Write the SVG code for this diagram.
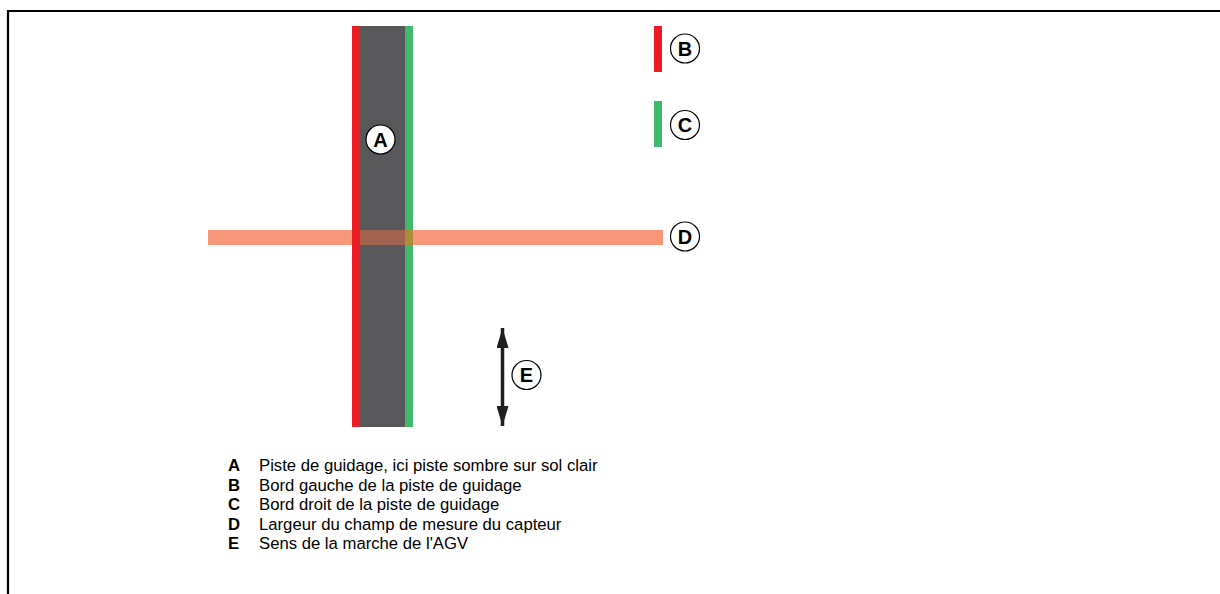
<svg xmlns="http://www.w3.org/2000/svg" width="1220" height="594" viewBox="0 0 1220 594">
  <style>
    .frame { stroke: #000; stroke-width: 2.2; fill: none; }
    .tag circle { fill: #fff; stroke: #000; stroke-width: 1.2; }
    .tag text { font-family: "Liberation Sans", Arial, sans-serif; font-weight: bold; font-size: 20px; text-anchor: middle; fill: #000; }
    .key { font-family: "Liberation Sans", Arial, sans-serif; font-size: 16.7px; fill: #000; }
    .key .k { font-weight: bold; }
  </style>
  <defs>
    <marker id="head" viewBox="0 0 20 12" refX="20" refY="6" markerWidth="20" markerHeight="12" markerUnits="userSpaceOnUse" orient="auto-start-reverse">
      <path d="M0,0 L20,6 L0,12 Z" fill="#231f20"/>
    </marker>
  </defs>

  <rect width="1220" height="594" fill="#fff"/>
  <path class="frame" d="M8,594 V11 H1220"/>

  <!-- guide track with its two edges -->
  <g id="track">
    <rect x="360" y="26" width="45" height="401" fill="#58585a"/>
    <rect x="352" y="26" width="8" height="401" fill="#ed1c24"/>
    <rect x="405" y="26" width="8" height="401" fill="#40b96a"/>
  </g>

  <!-- sensor measuring field -->
  <g id="field">
    <rect x="208" y="230" width="144" height="15" fill="#f7977a"/>
    <rect x="360" y="230" width="45" height="15" fill="#a1634f"/>
    <rect x="405" y="230" width="8" height="15" fill="#b08a3c"/>
    <rect x="413" y="230" width="250" height="15" fill="#f7977a"/>
  </g>

  <!-- edge colour samples -->
  <g id="edge-left">
    <rect x="654" y="26" width="8" height="46" fill="#ed1c24"/>
  </g>
  <g id="edge-right">
    <rect x="654" y="101" width="8" height="46" fill="#40b96a"/>
  </g>

  <!-- direction of travel -->
  <g id="connectors">
    <line x1="502.5" y1="328" x2="502.5" y2="426" stroke="#231f20" stroke-width="3.5" marker-start="url(#head)" marker-end="url(#head)"/>
  </g>

  <g id="tag-a" class="tag">
    <circle cx="380.5" cy="139.5" r="14.5"/>
    <text x="380.5" y="146.5">A</text>
  </g>
  <g id="tag-b" class="tag">
    <circle cx="685" cy="48.5" r="14.5"/>
    <text x="685" y="55.5">B</text>
  </g>
  <g id="tag-c" class="tag">
    <circle cx="685" cy="125" r="14.5"/>
    <text x="685" y="132">C</text>
  </g>
  <g id="tag-d" class="tag">
    <circle cx="685" cy="236.5" r="14.5"/>
    <text x="685" y="243.5">D</text>
  </g>
  <g id="tag-e" class="tag">
    <circle cx="526.5" cy="375" r="14.5"/>
    <text x="526.5" y="382">E</text>
  </g>

  <!-- legend -->
  <g id="legend" class="key">
    <text class="k" x="228" y="471">A</text>
    <text x="259" y="471">Piste de guidage, ici piste sombre sur sol clair</text>
    <text class="k" x="228" y="490.5">B</text>
    <text x="259" y="490.5">Bord gauche de la piste de guidage</text>
    <text class="k" x="228" y="510">C</text>
    <text x="259" y="510">Bord droit de la piste de guidage</text>
    <text class="k" x="228" y="529.5">D</text>
    <text x="259" y="529.5">Largeur du champ de mesure du capteur</text>
    <text class="k" x="228" y="549">E</text>
    <text x="259" y="549">Sens de la marche de l'AGV</text>
  </g>
</svg>
